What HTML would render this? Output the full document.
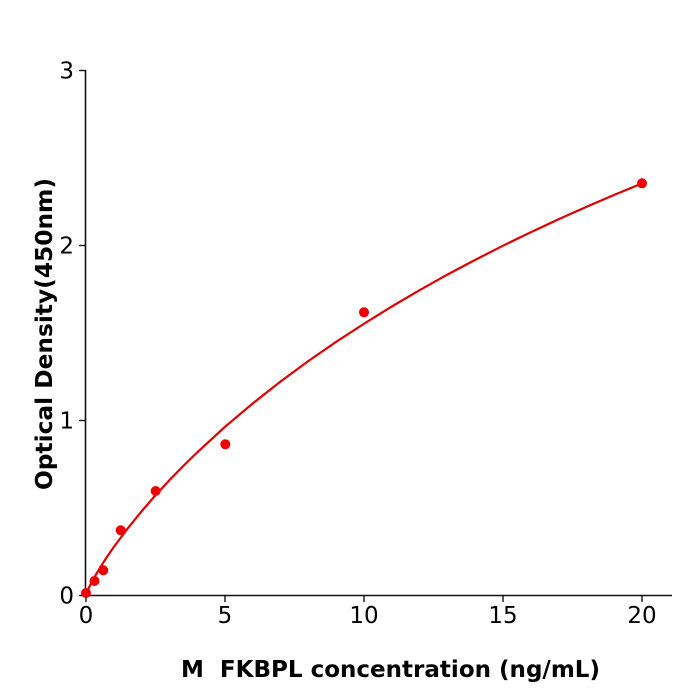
<!DOCTYPE html>
<html><head><meta charset="utf-8"><style>
html,body{margin:0;padding:0;background:#fff;}
svg{display:block;}
text{font-family:"DejaVu Sans","Liberation Sans",sans-serif;fill:#000;}
</style></head><body>
<svg width="700" height="700" viewBox="0 0 700 700" xmlns="http://www.w3.org/2000/svg">
<rect width="700" height="700" fill="#fff"/>
<!-- axes -->
<line x1="85.5" y1="70" x2="85.5" y2="596" stroke="#111" stroke-width="1.6"/>
<line x1="85" y1="595.5" x2="672" y2="595.5" stroke="#111" stroke-width="1.6"/>
<!-- ticks -->
<g stroke="#111" stroke-width="1.4">
<line x1="79" y1="70.5" x2="86" y2="70.5"/>
<line x1="79" y1="245.5" x2="86" y2="245.5"/>
<line x1="79" y1="420.5" x2="86" y2="420.5"/>
<line x1="79" y1="595.5" x2="86" y2="595.5"/>
<line x1="86" y1="595" x2="86" y2="602"/>
<line x1="225" y1="595" x2="225" y2="602"/>
<line x1="364" y1="595" x2="364" y2="602"/>
<line x1="503" y1="595" x2="503" y2="602"/>
<line x1="642" y1="595" x2="642" y2="602"/>
</g>
<g font-size="23" text-anchor="end">
<text x="74" y="78.5">3</text>
<text x="74" y="253.5">2</text>
<text x="74" y="428.5">1</text>
<text x="74" y="603.5">0</text>
</g>
<g font-size="23" text-anchor="middle">
<text x="86" y="623">0</text>
<text x="225" y="623">5</text>
<text x="364" y="623">10</text>
<text x="503" y="623">15</text>
<text x="642" y="623">20</text>
</g>
<!-- curve -->
<polyline fill="none" stroke="#dd0000" stroke-width="2.2" stroke-linejoin="round"
points="86,595 88.8,588.0 92.95,579.8 99.9,567.9 106.85,557.1 113.8,547.0 127.7,528.4 141.6,511.3 155.5,495.25 169.4,480.2 183.3,466.0 197.2,452.4 225,426.8 252.8,403.4 280.6,381.5 308.4,361.0 336.2,341.8 364,323.75 391.8,306.5 419.6,290.2 447.4,274.6 475.2,259.9 503,245.7 530.8,232.2 558.6,219.2 586.4,206.9 614.2,194.9 642,183.4"/>
<!-- points -->
<g fill="#ee0000">
<circle cx="86" cy="593" r="5"/>
<circle cx="94.5" cy="581" r="5"/>
<circle cx="103.3" cy="570.3" r="5"/>
<circle cx="120.7" cy="530.3" r="5"/>
<circle cx="155.7" cy="491" r="5"/>
<circle cx="225.3" cy="444.3" r="5"/>
<circle cx="364" cy="312.3" r="5"/>
<circle cx="642" cy="183.3" r="5"/>
</g>
<!-- labels -->
<text x="181" y="677" font-size="23" font-weight="bold" textLength="419" lengthAdjust="spacingAndGlyphs" xml:space="preserve">M  FKBPL concentration (ng/mL)</text>
<text transform="translate(52,490) rotate(-90)" x="0" y="0" font-size="23" font-weight="bold" textLength="312" lengthAdjust="spacingAndGlyphs">Optical Density(450nm)</text>
</svg>
</body></html>
